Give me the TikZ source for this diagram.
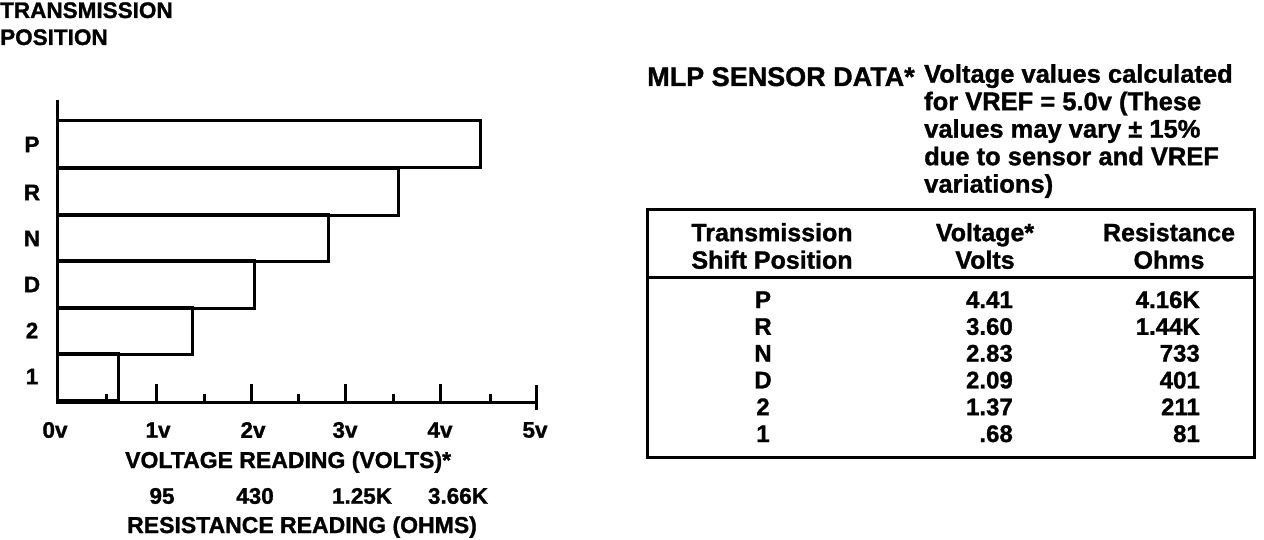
\documentclass[tikz,border=0pt]{standalone}
\usepackage{fontspec}
\setmainfont{Liberation Sans}
\newfontface\blk{Liberation Sans Bold}[FakeBold=1.2]
\usepackage{tikz}
\usetikzlibrary{positioning}
\tikzstyle{bar} = [draw, line width=3pt]
\tikzstyle{axis} = [line width=3pt]
\tikzstyle{lbl} = [inner sep=0pt, font=\blk\fontsize{22.5}{26}\selectfont]
\tikzstyle{txt} = [inner sep=0pt, font=\blk\fontsize{25}{27.5}\selectfont]
\tikzstyle{cell} = [inner sep=0pt, font=\blk\fontsize{24}{27}\selectfont]

\begin{document}
\begin{tikzpicture}[x=1pt, y=-1pt]
			\useasboundingbox (0,0) rectangle (1264,540);
			% chart title
			\node[lbl, anchor=base west] (title1) at (0,18) {TRANSMISSION};
			\node[lbl, anchor=base west] (title2) at (0,45) {POSITION};
			% bars
			\foreach \g/\r/\t [count=\i] in {P/480/121, R/398/169, N/328/215, D/254/261, 2/192/307, 1/118/353} {
				\draw[bar] (57,\t) rectangle (\r,\t+47);
				\node[lbl] (pos\i) at (32,\t+23.5) {\g};
			}
			% axes
			\draw[axis] (57,100) -- (57,402) -- (536,402);
			\draw[axis] (536,385) -- (536,410);
			\foreach \x in {156,251,345,440}
				\draw[axis] (\x,384) -- (\x,402);
			\foreach \x in {106,204,298,393,490}
				\draw[axis] (\x,394) -- (\x,402);
			\foreach \x [count=\v from 0] in {55,158,253,345,440,535}
				\node[lbl] (tick\v) at (\x,430) {\v v};
			\node[lbl, font=\blk\fontsize{23}{26}\selectfont, anchor=base west] (vread) at (125,468) {VOLTAGE READING (VOLTS)*};
			\node[lbl] (ohm1) at (162,496) {95};
			\node[lbl] (ohm2) at (255,496) {430};
			\node[lbl] (ohm3) at (362,496) {1.25K};
			\node[lbl] (ohm4) at (458,496) {3.66K};
			\node[lbl, font=\blk\fontsize{23}{26}\selectfont, anchor=base west] (rread) at (127,533) {RESISTANCE READING (OHMS)};
			% sensor data
			\node[txt, font=\blk\fontsize{27}{28}\selectfont, anchor=base west] (mlp) at (647,86) {MLP SENSOR DATA*};
			\node[txt, font=\blk\fontsize{25.5}{27.5}\selectfont, anchor=north west, align=left] (note) at (924,64) {Voltage values calculated\\for VREF = 5.0v (These\\values may vary ± 15\%\\due to sensor and VREF\\variations)};
			% table
			\draw[axis] (647,210) rectangle (1254,457);
			\draw[axis] (647,277) -- (1254,277);
			\node[txt, align=center] (hpos) at (772,246) {Transmission\\Shift Position};
			\node[txt, align=center] (hvolt) at (985,246) {Voltage*\\Volts};
			\node[txt, align=center] (hohm) at (1169,246) {Resistance\\Ohms};
			\foreach \g/\v/\r [count=\i] in {P/4.41/4.16K, R/3.60/1.44K, N/2.83/733, D/2.09/401, 2/1.37/211, 1/.68/81} {
				\node[cell, anchor=base] (shift\i) at (763,308+26.8*\i-26.8) {\g};
				\node[cell, anchor=base east] (volt\i) at (1013,308+26.8*\i-26.8) {\v};
				\node[cell, anchor=base east] (res\i) at (1200,308+26.8*\i-26.8) {\r};
			}
		\end{tikzpicture}
\end{document}
